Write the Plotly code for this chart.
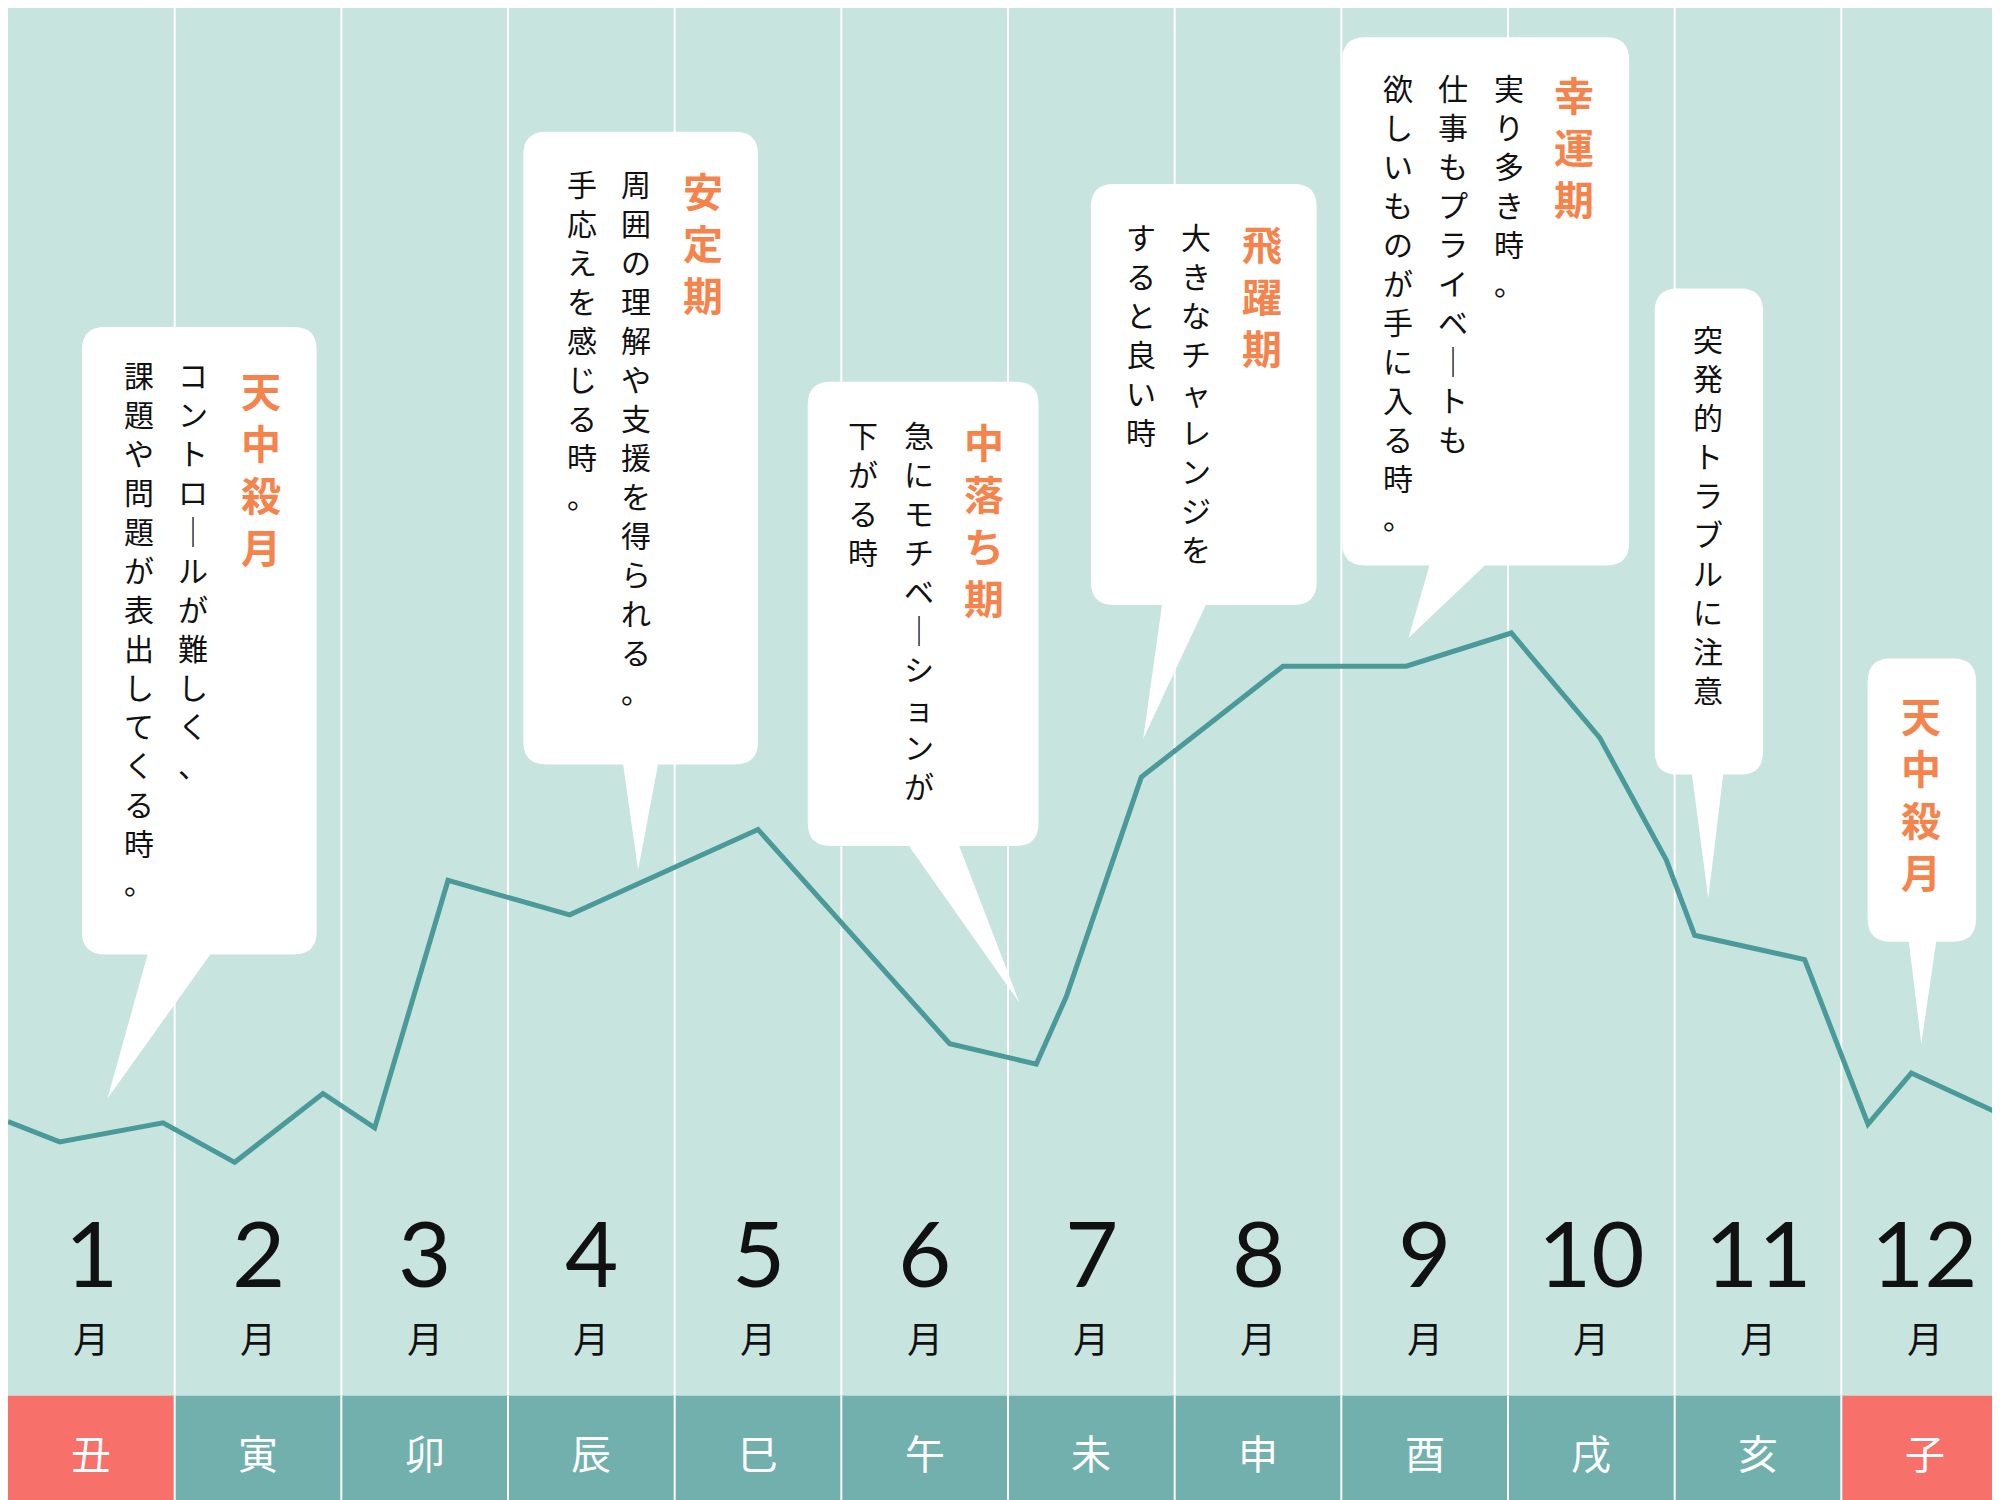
import plotly.graph_objects as go

# ---- data ----
months = ["1", "2", "3", "4", "5", "6", "7", "8", "9", "10", "11", "12"]
zodiac = ["丑", "寅", "卯", "辰", "巳", "午", "未", "申", "酉", "戌", "亥", "子"]
tenchu = [True, False, False, False, False, False, False, False, False, False, False, True]
# fortune line (x in months from left edge, y as level)
line_x = [0.0, 0.31, 0.93, 1.36, 1.89, 2.20, 2.64, 3.37, 4.50, 5.65, 6.17, 6.35, 6.80,
          7.65, 8.39, 9.02, 9.55, 9.95, 10.12, 10.78, 11.16, 11.42, 12.0]
line_y = [303, 287, 302, 271, 325, 298, 492, 465, 532, 364, 348, 401, 573,
          660, 660, 686, 604, 508, 449, 430, 301, 341, 306]

callouts = [
    dict(box=(58, 242, 250, 742), tail=(110, 160, 78, 855), title="天中殺月", tx=198, ty=275,
         cols=[(145, "コントロールが難しく、"), (103, "課題や問題が表出してくる時。")], by=268),
    dict(box=(404, 588, 97, 593), tail=(482, 510, 494, 676), title="安定期", tx=545, ty=118,
         cols=[(492, "周囲の理解や支援を得られる。"), (450, "手応えを感じる時。")], by=118),
    dict(box=(627, 808, 293, 657), tail=(705, 745, 793, 780), title="中落ち期", tx=765, ty=315,
         cols=[(714, "急にモチベーションが"), (670, "下がる時")], by=315),
    dict(box=(849, 1026, 138, 468), tail=(905, 940, 890, 573), title="飛躍期", tx=983, ty=160,
         cols=[(931, "大きなチャレンジを"), (888, "すると良い時")], by=160),
    dict(box=(1046, 1271, 23, 437), tail=(1115, 1160, 1098, 494), title="幸運期", tx=1228, ty=43,
         cols=[(1177, "実り多き時。"), (1133, "仕事もプライベートも"), (1090, "欲しいものが手に入る時。")], by=43),
    dict(box=(1291, 1376, 220, 601), tail=(1320, 1345, 1333, 698), title=None, tx=0, ty=0,
         cols=[(1333, "突発的トラブルに注意")], by=240),
    dict(box=(1458, 1543, 510, 732), tail=(1490, 1512, 1500, 812), title="天中殺月", tx=1500, ty=530,
         cols=[], by=0),
]

W, H = 1568.0, 1176.0
CW = W / 12
BG = "#c8e4df"
TEAL = "#72b0ae"
RED = "#f7706a"
LINE = "#4a9a9a"
ORANGE = "#f5844c"
FONT = "Noto Sans CJK JP"


def X(px):
    return px / CW


def Y(py):
    return H - py


def vert(s):
    return "<br>".join(s.replace("ー", "｜"))


fig = go.Figure()
fig.add_trace(go.Scatter(x=line_x, y=line_y, mode="lines",
                         line=dict(color=LINE, width=5), hoverinfo="skip"))

shapes = []
annotations = []

for i in range(1, 12):
    shapes.append(dict(type="line", x0=i, x1=i, y0=Y(1088), y1=Y(0),
                       line=dict(color="white", width=2), layer="below"))

for i, z in enumerate(zodiac):
    shapes.append(dict(type="rect", x0=i, x1=i + 1, y0=Y(1176), y1=Y(1088),
                       fillcolor=RED if tenchu[i] else TEAL, line=dict(width=0), layer="below"))
    if i > 0:
        shapes.append(dict(type="line", x0=i, x1=i, y0=Y(1176), y1=Y(1088),
                           line=dict(color="white", width=2), layer="above"))
    annotations.append(dict(x=i + 0.5, y=Y(1132), text=z, showarrow=False,
                            font=dict(family=FONT, size=40, color="white")))
    annotations.append(dict(x=i + 0.5, y=Y(975), text=months[i], showarrow=False,
                            font=dict(family="Lato", size=92, color="#111")))
    annotations.append(dict(x=i + 0.5, y=Y(1042), text="月", showarrow=False,
                            font=dict(family=FONT, size=36, color="#111")))

r = 18
for c in callouts:
    x0, x1, y0, y1 = c["box"]
    path = (f"M {X(x0 + r)},{Y(y0)} L {X(x1 - r)},{Y(y0)} Q {X(x1)},{Y(y0)} {X(x1)},{Y(y0 + r)} "
            f"L {X(x1)},{Y(y1 - r)} Q {X(x1)},{Y(y1)} {X(x1 - r)},{Y(y1)} "
            f"L {X(x0 + r)},{Y(y1)} Q {X(x0)},{Y(y1)} {X(x0)},{Y(y1 - r)} "
            f"L {X(x0)},{Y(y0 + r)} Q {X(x0)},{Y(y0)} {X(x0 + r)},{Y(y0)} Z")
    shapes.append(dict(type="path", path=path, fillcolor="white", line=dict(width=0), layer="above"))
    ta, tb, tipx, tipy = c["tail"]
    tpath = f"M {X(ta)},{Y(y1 - 2)} L {X(tb)},{Y(y1 - 2)} L {X(tipx)},{Y(tipy)} Z"
    shapes.append(dict(type="path", path=tpath, fillcolor="white", line=dict(width=0), layer="above"))
    if c["title"]:
        annotations.append(dict(x=X(c["tx"]), y=Y(c["ty"]), yanchor="top", xanchor="center",
                                text="<b>" + vert(c["title"]) + "</b>", showarrow=False,
                                font=dict(family=FONT, size=40, color=ORANGE)))
    for cx, txt in c["cols"]:
        annotations.append(dict(x=X(cx), y=Y(c["by"]), yanchor="top", xanchor="center",
                                text=vert(txt), showarrow=False,
                                font=dict(family=FONT, size=30, color="#111")))

fig.update_layout(
    width=2000, height=1500, margin=dict(l=0, r=0, t=0, b=0),
    paper_bgcolor=BG, plot_bgcolor=BG, showlegend=False,
    xaxis=dict(range=[0, 12], visible=False, fixedrange=True),
    yaxis=dict(range=[0, H], visible=False, fixedrange=True),
    shapes=shapes, annotations=annotations,
)
fig.write_html("out.html")
